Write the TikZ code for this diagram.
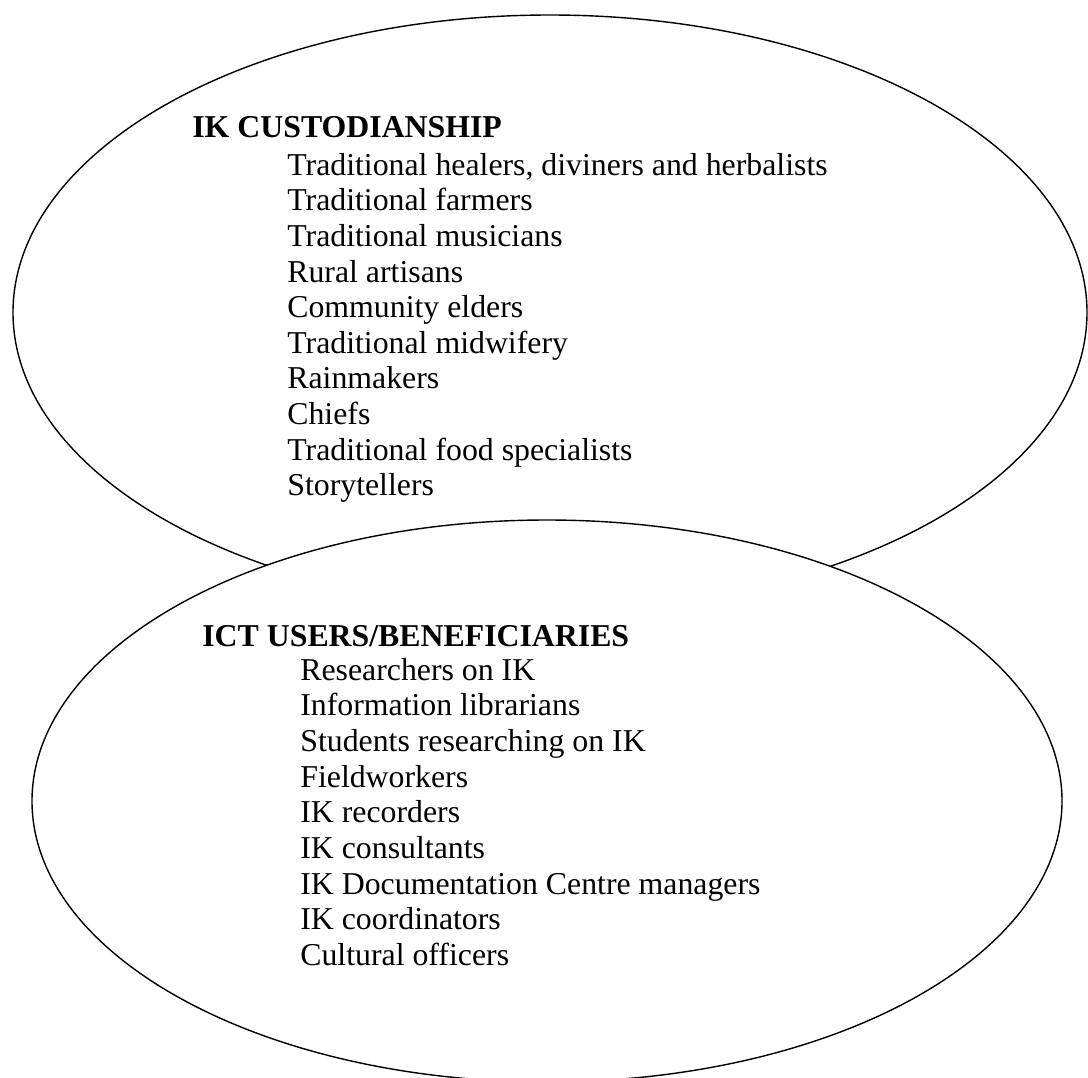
\documentclass[tikz,border=0pt]{standalone}
\usepackage{fontspec}
\setmainfont{Liberation Serif}
\usetikzlibrary{positioning}

\begin{document}
\begin{tikzpicture}[line cap=round,line join=round,x=1.0cm,y=1.0cm,
	listtext/.style={anchor=base west,inner sep=0pt,align=left,font=\fontsize{18.1}{20.26}\selectfont},
	headtext/.style={listtext,font=\fontsize{18.1}{20.26}\selectfont\bfseries}]
		\useasboundingbox (0.,0.) rectangle (21.76,-21.56);
		\clip (0.,0.) rectangle (21.76,-21.56);
		\draw [line width=0.8pt] (11.,-6.25) ellipse (10.74 and 5.95);
		\draw [line width=0.8pt,fill=white] (10.94,-16.02) ellipse (10.3 and 5.62);
		% custodians (base = last line)
		\node[headtext] (custhead) at (3.84,-2.748) {IK CUSTODIANSHIP};
		\node[listtext] (custlist) at (5.74,-9.916) {Traditional healers, diviners and herbalists\\Traditional farmers\\Traditional musicians\\Rural artisans\\Community elders\\Traditional midwifery\\Rainmakers\\Chiefs\\Traditional food specialists\\Storytellers};
		% users
		\node[headtext] (usershead) at (4.04,-12.928) {ICT USERS/BENEFICIARIES};
		\node[listtext] (userslist) at (6.,-19.304) {Researchers on IK\\Information librarians\\Students researching on IK\\Fieldworkers\\IK recorders\\IK consultants\\IK Documentation Centre managers\\IK coordinators\\Cultural officers};
	\end{tikzpicture}
\end{document}
